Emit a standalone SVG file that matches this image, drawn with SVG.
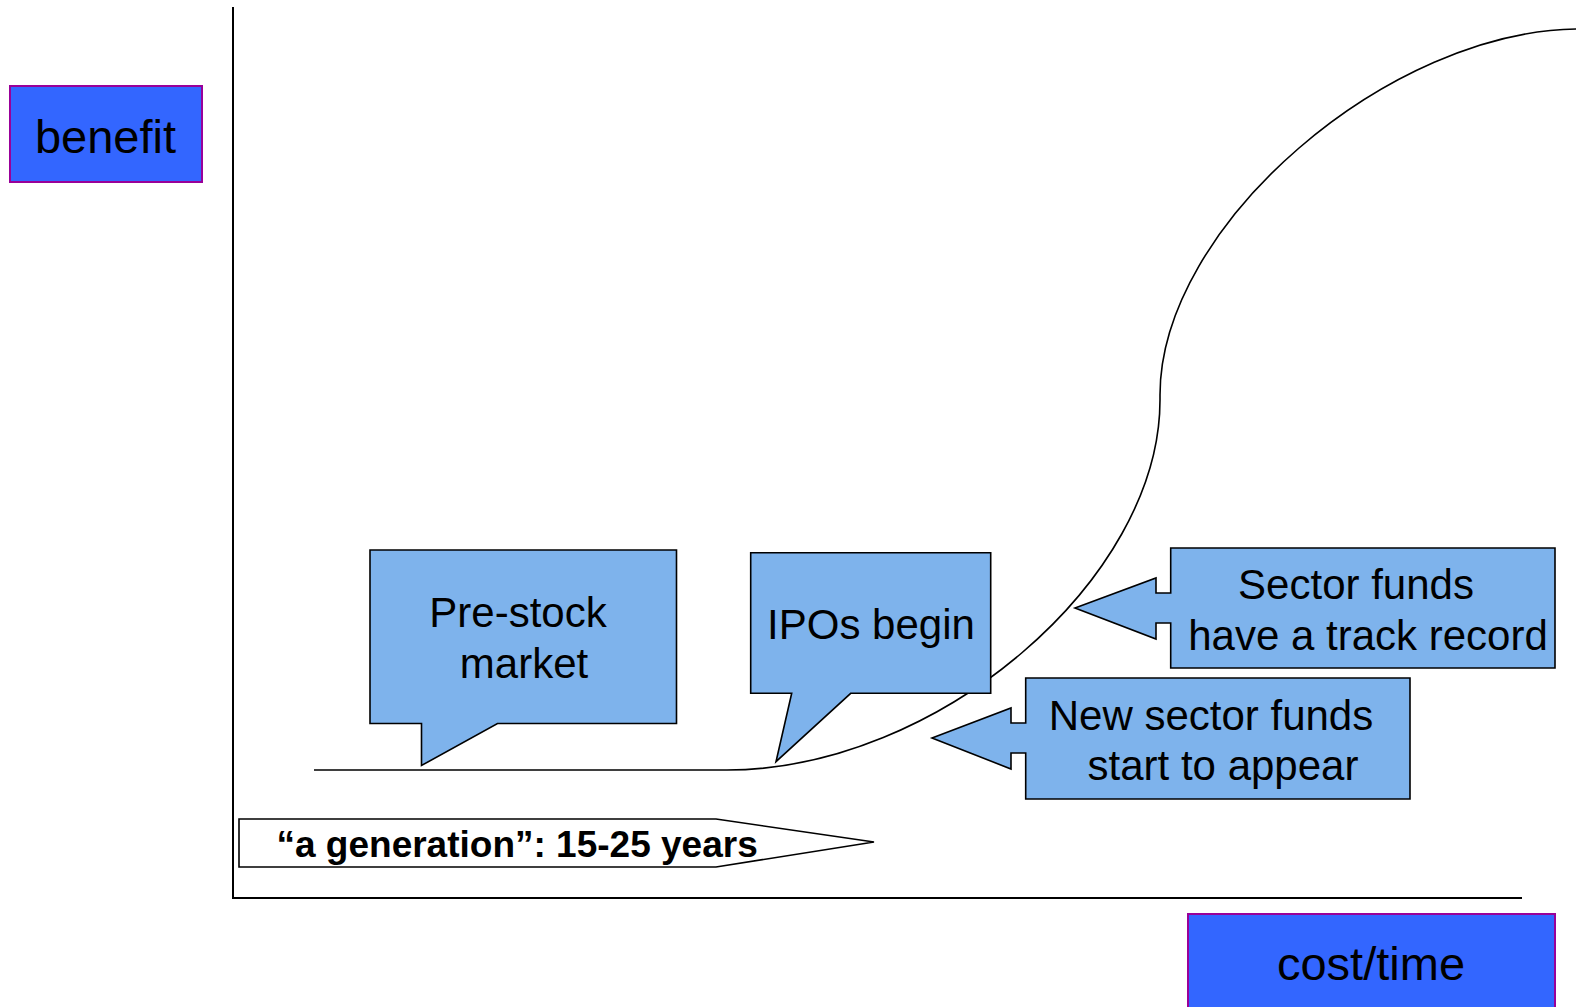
<svg xmlns="http://www.w3.org/2000/svg" width="1576" height="1007" viewBox="0 0 1576 1007">
<style>
.lbl{fill:#3366FF;stroke:#990099;stroke-width:2}
.lbltxt{font-family:"Liberation Sans",Arial,sans-serif;font-size:47px;fill:#000;text-anchor:middle}
.call{fill:#7EB3EC;stroke:#000;stroke-width:1.6;stroke-linejoin:miter}
.ctxt{font-family:"Liberation Sans",Arial,sans-serif;font-size:42px;fill:#000;text-anchor:middle}
.axis{stroke:#000;stroke-width:2;fill:none}
.curve{stroke:#000;stroke-width:1.6;fill:none}
</style>
<rect width="1576" height="1007" fill="#fff"/>
<g id="axes">
<line class="axis" x1="233" y1="7" x2="233" y2="898"/>
<line class="axis" x1="232" y1="898" x2="1522" y2="898"/>
</g>
<g id="connectors">
<path class="curve" d="M314,770 H727 C937,770 1160,580 1160,400 L1160,395 C1160,225 1390,29 1580,29"/>
</g>
<g id="benefit">
<rect class="lbl" x="10" y="86" width="192" height="96"/>
<text class="lbltxt" x="105.5" y="153">benefit</text>
</g>
<g id="costtime">
<rect class="lbl" x="1188" y="914" width="367" height="100"/>
<text class="lbltxt" x="1371" y="980">cost/time</text>
</g>
<g id="prestock">
<path class="call" d="M370,550 H676.5 V723.5 H497.5 L421.5,765.5 V723.5 H370 Z"/>
<text class="ctxt" x="518" y="627">Pre-stock</text>
<text class="ctxt" x="524" y="678">market</text>
</g>
<g id="ipos">
<path class="call" d="M750.7,552.7 H990.7 V693.3 H850.7 L776,761.7 L791.7,693.3 H750.7 Z"/>
<text class="ctxt" x="871" y="639">IPOs begin</text>
</g>
<g id="sectorfunds">
<path class="call" d="M1170.7,548 H1555 V668 H1170.7 V623 H1156 V639 L1075,608 L1156,578 V593 H1170.7 Z"/>
<text class="ctxt" x="1356" y="599">Sector funds</text>
<text class="ctxt" x="1368" y="650">have a track record</text>
</g>
<g id="newsector">
<path class="call" d="M1025.7,678 H1410 V799 H1025.7 V753 H1011 V769 L932,738 L1011,708 V723 H1025.7 Z"/>
<text class="ctxt" x="1211" y="730">New sector funds</text>
<text class="ctxt" x="1223" y="780">start to appear</text>
</g>
<g id="generation">
<path d="M239,819 H716 L874,842 L716,867 H239 Z" fill="#fff" stroke="#000" stroke-width="1.6"/>
<text x="276.5" y="857" font-family="'Liberation Sans',Arial,sans-serif" font-size="37" font-weight="bold" fill="#000">“a generation”: 15-25 years</text>
</g>
</svg>
